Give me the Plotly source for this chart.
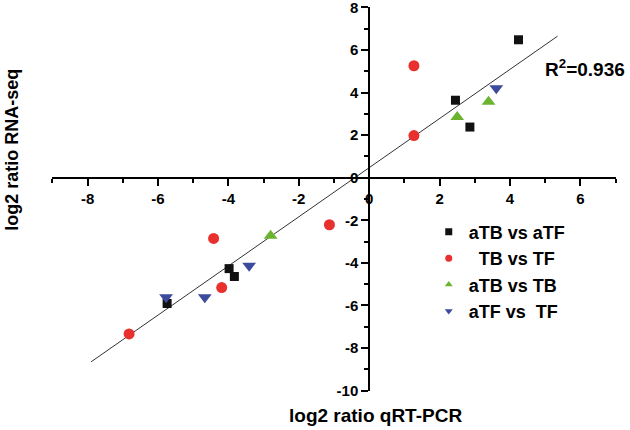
import plotly.graph_objects as go

# data (log2 ratio qRT-PCR vs log2 ratio RNA-seq)
atb_atf_x = [4.24, 2.45, 2.86, -3.98, -3.83, -5.74]
atb_atf_y = [6.48, 3.64, 2.38, -4.27, -4.64, -5.91]

tb_tf_x = [1.27, 1.27, -1.13, -4.42, -4.19, -6.82]
tb_tf_y = [5.26, 1.98, -2.21, -2.85, -5.16, -7.34]

atb_tb_x = [2.50, 3.39, -2.80]
atb_tb_y = [2.85, 3.57, -2.73]

atf_tf_x = [3.61, -3.41, -4.67, -5.77]
atf_tf_y = [4.20, -4.13, -5.61, -5.61]

# fitted line end points
fit_x = [-7.9, 5.35]
fit_y = [-8.65, 6.65]

x_ticks = [-8, -6, -4, -2, 0, 2, 4, 6]
x_labels = ["-8", "-6", "-4", "-2", "0", "2", "4", "6"]
y_ticks = [8, 6, 4, 2, 0, -2, -4, -6, -8, -10]
y_labels = ["8", "6", "4", "2", "0", "-2", "-4", "-6", "-8", "-10"]

series = [
    ("aTB vs aTF", atb_atf_x, atb_atf_y, "square", "#111111", 9),
    ("\u00a0\u00a0TB vs TF", tb_tf_x, tb_tf_y, "circle", "#e8302e", 11),
    ("aTB vs TB", atb_tb_x, atb_tb_y, "triangle-up", "#6cb42f", 12),
    ("aTF vs\u00a0 TF", atf_tf_x, atf_tf_y, "triangle-down", "#3c4b9c", 12),
]

fig = go.Figure()

fig.add_trace(go.Scatter(x=fit_x, y=fit_y, mode="lines",
                         line=dict(color="#333333", width=1), showlegend=False))

for name, xs, ys, sym, col, sz in series:
    fig.add_trace(go.Scatter(x=xs, y=ys, mode="markers", showlegend=False,
                             marker=dict(symbol=sym, color=col, size=sz)))
    # smaller symbol for the legend
    fig.add_trace(go.Scatter(x=[None], y=[None], mode="markers", name=name,
                             marker=dict(symbol=sym, color=col, size=7)))

bold = dict(family="Liberation Sans, Arial", size=15, color="black", weight="bold")

# axes cross at the origin
axis_common = dict(showgrid=False, zeroline=False, showline=True, linecolor="black",
                   linewidth=2, ticks="outside", ticklen=7, tickwidth=2, tickcolor="black",
                   tickfont=bold, anchor="free", automargin=False,
                   ticklabeloverflow="allow",
                   minor=dict(ticks="outside", ticklen=4, tickwidth=1.5, dtick=1,
                              tickcolor="black"))

fig.update_layout(
    width=630, height=430,
    margin=dict(l=52, r=14, t=7, b=39),
    paper_bgcolor="white", plot_bgcolor="white",
    font=dict(family="Liberation Sans, Arial", color="black"),
    xaxis=dict(axis_common, range=[-9.01, 7.01], tickvals=x_ticks, ticktext=x_labels,
               position=10 / 18),
    yaxis=dict(axis_common, range=[-10.02, 8.02], tickvals=y_ticks, ticktext=y_labels,
               position=9 / 16),
    legend=dict(x=0.668, y=0.462, xanchor="left", yanchor="top",
                bgcolor="rgba(0,0,0,0)", tracegroupgap=0,
                font=dict(family="Liberation Sans, Arial", size=18, weight="bold")),
    annotations=[
        dict(text="log2 ratio qRT-PCR", x=0.574, y=-0.065, xref="paper", yref="paper",
             xanchor="center", yanchor="middle",
             showarrow=False, font=dict(size=19, weight="bold")),
        dict(text="log2 ratio RNA-seq", x=-0.071, y=0.628, xref="paper", yref="paper",
             xanchor="center", yanchor="middle",
             showarrow=False, textangle=-90, font=dict(size=18, weight="bold")),
        dict(text="R<sup>2</sup>=0.936", x=0.8706, y=0.841, xref="paper", yref="paper",
             xanchor="left", yanchor="middle",
             showarrow=False, font=dict(size=19, weight="bold")),
    ],
)

fig.write_html("out.html", config={"displayModeBar": False},
               post_script="document.body.style.margin='0';")
